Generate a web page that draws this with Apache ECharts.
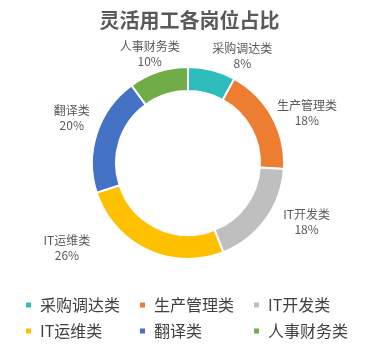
<!DOCTYPE html>
<html><head><meta charset="utf-8">
<script src="https://cdn.jsdelivr.net/npm/echarts@6/dist/echarts.min.js"></script>
<style>html,body{margin:0;padding:0;background:#fff}#c{width:379px;height:349px}</style>
</head><body><div id="c"></div>
<script>
const categories = ['采购调达类','生产管理类','IT开发类','IT运维类','翻译类','人事财务类'];
const values = [8, 18, 18, 26, 20, 10];
const colors = ['#2FBCBC','#ED7D31','#BFBFBF','#FFC000','#4472C4','#70AD47'];
const titleText = '灵活用工各岗位占比';
// small nudges of the data labels (Excel-style manual label placement)
const labelNudge = [[-5,-12],[-2,-3],[11,1.5],[-51,-3.5],[0,-15],[27,-16]];

const chart = echarts.init(document.getElementById('c'));
chart.setOption({
  animation: false,
  title: { text: titleText, left: 'center', top: 5,
    textStyle: { fontFamily: 'Noto Sans CJK SC', fontSize: 20, fontWeight: 'bold', color: '#595959' } },
  color: colors,
  legend: {
    data: categories, left: 19, top: 292, width: 360, orient: 'horizontal',
    itemWidth: 7, itemHeight: 7, itemGap: 10, icon: 'rect',
    formatter: '{a|{name}}',
    textStyle: { rich: { a: { fontFamily: 'Noto Sans CJK SC', fontSize: 16, color: '#404040', width: 88, lineHeight: 12, padding: [0,0,0,3] } } }
  },
  series: [{
    type: 'pie', center: [188, 163], radius: [72, 96], startAngle: 90, clockwise: true,
    itemStyle: { borderColor: '#fff', borderWidth: 2 },
    label: { show: true, position: 'outside', formatter: '{b}\n{d}%', fontFamily: 'Noto Sans CJK SC',
      fontSize: 12, color: '#595959', lineHeight: 15 },
    labelLine: { show: false, length: 2, length2: 0 },
    labelLayout: function (p) {
      const r = p.labelRect, n = labelNudge[p.dataIndex];
      return { x: r.x + r.width / 2 + n[0], y: r.y + r.height / 2 + n[1], align: 'center', verticalAlign: 'middle' };
    },
    data: categories.map((c, i) => ({ name: c, value: values[i] }))
  }]
});
</script></body></html>
